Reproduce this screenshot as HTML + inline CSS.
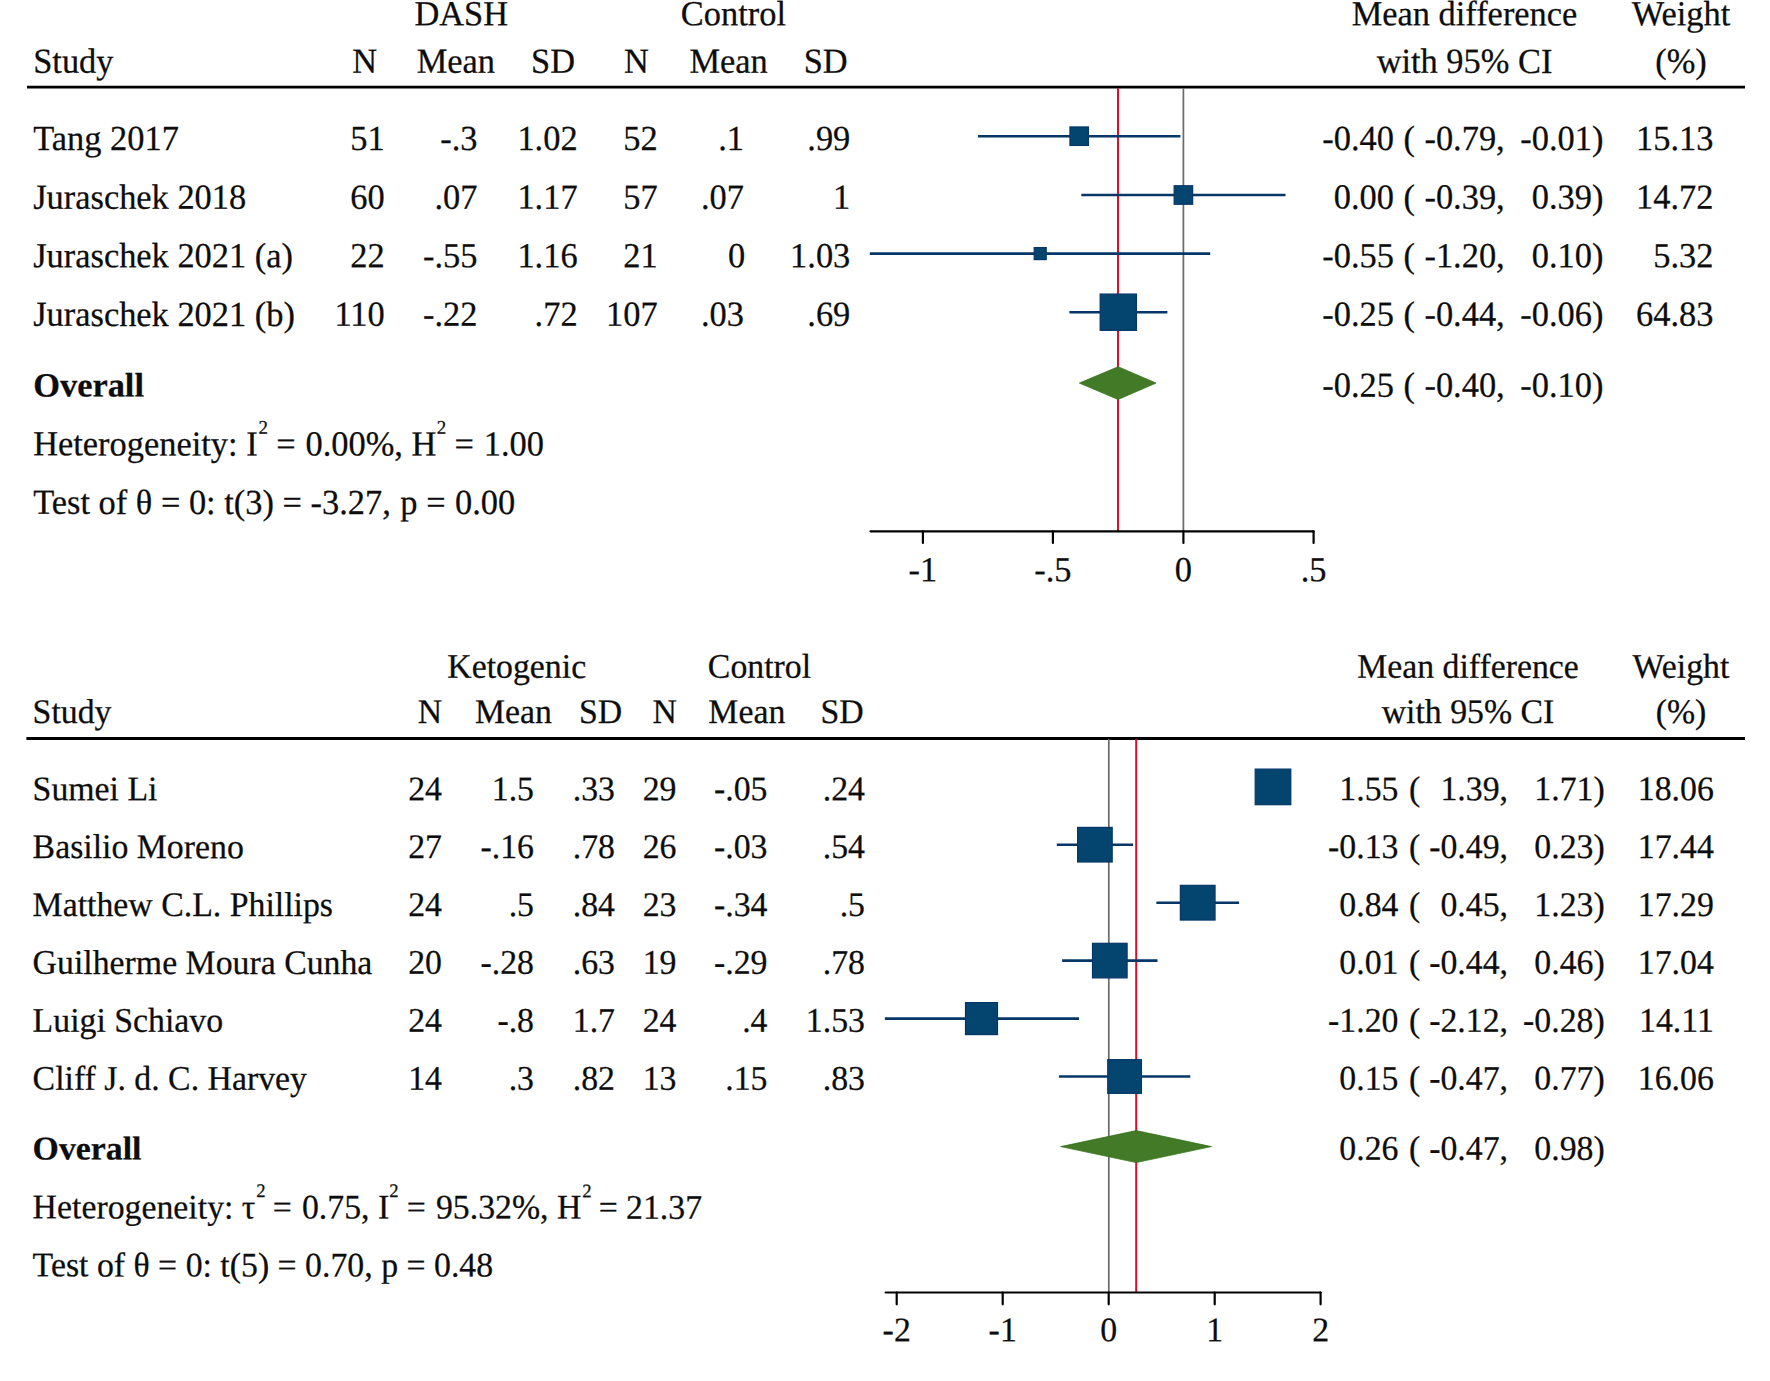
<!DOCTYPE html>
<html lang="en"><head><meta charset="utf-8"><title>Forest plots</title>
<style>
html,body{margin:0;padding:0;background:#fff}
svg{display:block}
text{font-family:'Liberation Serif', 'DejaVu Serif', serif;fill:#0d0d0d;stroke:#0d0d0d;stroke-width:0.25px;white-space:pre;text-rendering:geometricPrecision}
</style></head><body>
<svg width="1770" height="1381" viewBox="0 0 1770 1381">
<rect width="1770" height="1381" fill="#fff"/>
<g font-size="34.4">
<text transform="translate(461.2 25.35) matrix(1 0.0005 0 1.022 0 0)" text-anchor="middle">DASH</text>
<text transform="translate(733.4 25.35) matrix(1 0.0005 0 1.022 0 0)" text-anchor="middle">Control</text>
<text transform="translate(1464.5 25.35) matrix(1 0.0005 0 1.022 0 0)" text-anchor="middle">Mean difference</text>
<text transform="translate(1681 25.35) matrix(1 0.0005 0 1.022 0 0)" text-anchor="middle">Weight</text>
<text transform="translate(33.2 72.85) matrix(1 0.0005 0 1.022 0 0)">Study</text>
<text transform="translate(364.7 72.85) matrix(1 0.0005 0 1.022 0 0)" text-anchor="middle">N</text>
<text transform="translate(455.8 72.85) matrix(1 0.0005 0 1.022 0 0)" text-anchor="middle">Mean</text>
<text transform="translate(553 72.85) matrix(1 0.0005 0 1.022 0 0)" text-anchor="middle">SD</text>
<text transform="translate(636.5 72.85) matrix(1 0.0005 0 1.022 0 0)" text-anchor="middle">N</text>
<text transform="translate(728.6 72.85) matrix(1 0.0005 0 1.022 0 0)" text-anchor="middle">Mean</text>
<text transform="translate(825.7 72.85) matrix(1 0.0005 0 1.022 0 0)" text-anchor="middle">SD</text>
<text transform="translate(1464.5 72.85) matrix(1 0.0005 0 1.022 0 0)" text-anchor="middle">with 95% CI</text>
<text transform="translate(1681 72.85) matrix(1 0.0005 0 1.022 0 0)" text-anchor="middle">(%)</text>
<text transform="translate(33.2 150.05) matrix(1 0.0005 0 1.022 0 0)">Tang 2017</text>
<text transform="translate(384.7 150.05) matrix(1 0.0005 0 1.022 0 0)" text-anchor="end">51</text>
<text transform="translate(477.5 150.05) matrix(1 0.0005 0 1.022 0 0)" text-anchor="end">-.3</text>
<text transform="translate(577.6 150.05) matrix(1 0.0005 0 1.022 0 0)" text-anchor="end">1.02</text>
<text transform="translate(657.7 150.05) matrix(1 0.0005 0 1.022 0 0)" text-anchor="end">52</text>
<text transform="translate(744 150.05) matrix(1 0.0005 0 1.022 0 0)" text-anchor="end">.1</text>
<text transform="translate(850.3 150.05) matrix(1 0.0005 0 1.022 0 0)" text-anchor="end">.99</text>
<text transform="translate(1394 150.05) matrix(1 0.0005 0 1.022 0 0)" text-anchor="end">-0.40</text>
<text transform="translate(1403.5 150.05) matrix(1 0.0005 0 1.022 0 0)">(</text>
<text transform="translate(1504.7 150.05) matrix(1 0.0005 0 1.022 0 0)" text-anchor="end">-0.79,</text>
<text transform="translate(1603.4 150.05) matrix(1 0.0005 0 1.022 0 0)" text-anchor="end">-0.01)</text>
<text transform="translate(1713.5 150.05) matrix(1 0.0005 0 1.022 0 0)" text-anchor="end">15.13</text>
<text transform="translate(33.2 208.65) matrix(1 0.0005 0 1.022 0 0)">Juraschek 2018</text>
<text transform="translate(384.7 208.65) matrix(1 0.0005 0 1.022 0 0)" text-anchor="end">60</text>
<text transform="translate(477.5 208.65) matrix(1 0.0005 0 1.022 0 0)" text-anchor="end">.07</text>
<text transform="translate(577.6 208.65) matrix(1 0.0005 0 1.022 0 0)" text-anchor="end">1.17</text>
<text transform="translate(657.7 208.65) matrix(1 0.0005 0 1.022 0 0)" text-anchor="end">57</text>
<text transform="translate(744 208.65) matrix(1 0.0005 0 1.022 0 0)" text-anchor="end">.07</text>
<text transform="translate(850.3 208.65) matrix(1 0.0005 0 1.022 0 0)" text-anchor="end">1</text>
<text transform="translate(1394 208.65) matrix(1 0.0005 0 1.022 0 0)" text-anchor="end">0.00</text>
<text transform="translate(1403.5 208.65) matrix(1 0.0005 0 1.022 0 0)">(</text>
<text transform="translate(1504.7 208.65) matrix(1 0.0005 0 1.022 0 0)" text-anchor="end">-0.39,</text>
<text transform="translate(1603.4 208.65) matrix(1 0.0005 0 1.022 0 0)" text-anchor="end">0.39)</text>
<text transform="translate(1713.5 208.65) matrix(1 0.0005 0 1.022 0 0)" text-anchor="end">14.72</text>
<text transform="translate(33.2 267.25) matrix(1 0.0005 0 1.022 0 0)">Juraschek 2021 (a)</text>
<text transform="translate(384.7 267.25) matrix(1 0.0005 0 1.022 0 0)" text-anchor="end">22</text>
<text transform="translate(477.5 267.25) matrix(1 0.0005 0 1.022 0 0)" text-anchor="end">-.55</text>
<text transform="translate(577.6 267.25) matrix(1 0.0005 0 1.022 0 0)" text-anchor="end">1.16</text>
<text transform="translate(657.7 267.25) matrix(1 0.0005 0 1.022 0 0)" text-anchor="end">21</text>
<text transform="translate(745.2 267.25) matrix(1 0.0005 0 1.022 0 0)" text-anchor="end">0</text>
<text transform="translate(850.3 267.25) matrix(1 0.0005 0 1.022 0 0)" text-anchor="end">1.03</text>
<text transform="translate(1394 267.25) matrix(1 0.0005 0 1.022 0 0)" text-anchor="end">-0.55</text>
<text transform="translate(1403.5 267.25) matrix(1 0.0005 0 1.022 0 0)">(</text>
<text transform="translate(1504.7 267.25) matrix(1 0.0005 0 1.022 0 0)" text-anchor="end">-1.20,</text>
<text transform="translate(1603.4 267.25) matrix(1 0.0005 0 1.022 0 0)" text-anchor="end">0.10)</text>
<text transform="translate(1713.5 267.25) matrix(1 0.0005 0 1.022 0 0)" text-anchor="end">5.32</text>
<text transform="translate(33.2 325.85) matrix(1 0.0005 0 1.022 0 0)">Juraschek 2021 (b)</text>
<text transform="translate(384.7 325.85) matrix(1 0.0005 0 1.022 0 0)" text-anchor="end">110</text>
<text transform="translate(477.5 325.85) matrix(1 0.0005 0 1.022 0 0)" text-anchor="end">-.22</text>
<text transform="translate(577.6 325.85) matrix(1 0.0005 0 1.022 0 0)" text-anchor="end">.72</text>
<text transform="translate(657.7 325.85) matrix(1 0.0005 0 1.022 0 0)" text-anchor="end">107</text>
<text transform="translate(744 325.85) matrix(1 0.0005 0 1.022 0 0)" text-anchor="end">.03</text>
<text transform="translate(850.3 325.85) matrix(1 0.0005 0 1.022 0 0)" text-anchor="end">.69</text>
<text transform="translate(1394 325.85) matrix(1 0.0005 0 1.022 0 0)" text-anchor="end">-0.25</text>
<text transform="translate(1403.5 325.85) matrix(1 0.0005 0 1.022 0 0)">(</text>
<text transform="translate(1504.7 325.85) matrix(1 0.0005 0 1.022 0 0)" text-anchor="end">-0.44,</text>
<text transform="translate(1603.4 325.85) matrix(1 0.0005 0 1.022 0 0)" text-anchor="end">-0.06)</text>
<text transform="translate(1713.5 325.85) matrix(1 0.0005 0 1.022 0 0)" text-anchor="end">64.83</text>
<text transform="translate(33.2 396.55) matrix(1 0.0005 0 0.985 0 0)" font-weight="bold" stroke="none">Overall</text>
<text transform="translate(1394 396.85) matrix(1 0.0005 0 1.022 0 0)" text-anchor="end">-0.25</text>
<text transform="translate(1403.5 396.85) matrix(1 0.0005 0 1.022 0 0)">(</text>
<text transform="translate(1504.7 396.85) matrix(1 0.0005 0 1.022 0 0)" text-anchor="end">-0.40,</text>
<text transform="translate(1603.4 396.85) matrix(1 0.0005 0 1.022 0 0)" text-anchor="end">-0.10)</text>
<text transform="translate(33.2 455.35) matrix(1 0.0005 0 1.022 0 0)">Heterogeneity: I<tspan dx="0.8" dy="-21.3" font-size="19">2</tspan><tspan dy="21.3" dx="-0.25"> </tspan>=<tspan dx="1.2"> </tspan>0.00%, H<tspan dx="0.3" dy="-21.3" font-size="19">2</tspan><tspan dy="21.3" dx="-0.25"> </tspan>=<tspan dx="1.3"> </tspan>1.00</text>
<text transform="translate(33.2 513.85) matrix(1 0.0005 0 1.022 0 0)">Test of θ = 0: t(3) = -3.27,<tspan dx="1.0"> </tspan>p =<tspan dx="0.9"> </tspan>0.00</text>
<text transform="translate(922.9 581.35) matrix(1 0.0005 0 1.022 0 0)" text-anchor="middle">-1</text>
<text transform="translate(1052.9 581.35) matrix(1 0.0005 0 1.022 0 0)" text-anchor="middle">-.5</text>
<text transform="translate(1183.4 581.35) matrix(1 0.0005 0 1.022 0 0)" text-anchor="middle">0</text>
<text transform="translate(1313.6 581.35) matrix(1 0.0005 0 1.022 0 0)" text-anchor="middle">.5</text>
</g>
<line x1="27" y1="87.1" x2="1745" y2="87.1" stroke="#000" stroke-width="2.7"/>
<line x1="1118.0" y1="88" x2="1118.0" y2="531" stroke="#d50f2e" stroke-width="2.0"/>
<line x1="1183.4" y1="88" x2="1183.4" y2="531" stroke="#6a6a6a" stroke-width="1.7"/>
<line x1="870.5" y1="531.3" x2="1313.5" y2="531.3" stroke="#000" stroke-width="2.2" stroke-linecap="round"/>
<line x1="922.9" y1="531.3" x2="922.9" y2="543.0" stroke="#000" stroke-width="2.2" stroke-linecap="round"/>
<line x1="1052.9" y1="531.3" x2="1052.9" y2="543.0" stroke="#000" stroke-width="2.2" stroke-linecap="round"/>
<line x1="1183.4" y1="531.3" x2="1183.4" y2="543.0" stroke="#000" stroke-width="2.2" stroke-linecap="round"/>
<line x1="1313.6" y1="531.3" x2="1313.6" y2="543.0" stroke="#000" stroke-width="2.2" stroke-linecap="round"/>
<line x1="978.0" y1="136.2" x2="1180.4" y2="136.2" stroke="#043767" stroke-width="2.6"/>
<rect x="1069.95" y="126.95" width="18.50" height="18.50" fill="#04456f" stroke="#043767" stroke-width="1.2"/>
<line x1="1081.3" y1="195" x2="1285.5" y2="195" stroke="#043767" stroke-width="2.6"/>
<rect x="1174.15" y="185.75" width="18.50" height="18.50" fill="#04456f" stroke="#043767" stroke-width="1.2"/>
<line x1="869.8" y1="253.6" x2="1210.2" y2="253.6" stroke="#043767" stroke-width="2.6"/>
<rect x="1034.20" y="247.60" width="12.00" height="12.00" fill="#04456f" stroke="#043767" stroke-width="1.2"/>
<line x1="1069.4" y1="312.2" x2="1167.4" y2="312.2" stroke="#043767" stroke-width="2.6"/>
<rect x="1100.15" y="294.05" width="36.30" height="36.30" fill="#04456f" stroke="#043767" stroke-width="1.2"/>
<polygon points="1079.3,383.1 1118.1,366.70000000000005 1156.1,383.1 1118.1,399.5" fill="#437a27" stroke="#2f6d14" stroke-width="0.7"/>
<g font-size="33.8">
<text transform="translate(516.7 677.85) matrix(1 0.0005 0 1.022 0 0)" text-anchor="middle">Ketogenic</text>
<text transform="translate(759.5 677.85) matrix(1 0.0005 0 1.022 0 0)" text-anchor="middle">Control</text>
<text transform="translate(1468 677.85) matrix(1 0.0005 0 1.022 0 0)" text-anchor="middle">Mean difference</text>
<text transform="translate(1681 677.85) matrix(1 0.0005 0 1.022 0 0)" text-anchor="middle">Weight</text>
<text transform="translate(32.6 723.05) matrix(1 0.0005 0 1.022 0 0)">Study</text>
<text transform="translate(430 723.05) matrix(1 0.0005 0 1.022 0 0)" text-anchor="middle">N</text>
<text transform="translate(513.5 723.05) matrix(1 0.0005 0 1.022 0 0)" text-anchor="middle">Mean</text>
<text transform="translate(600.5 723.05) matrix(1 0.0005 0 1.022 0 0)" text-anchor="middle">SD</text>
<text transform="translate(664.7 723.05) matrix(1 0.0005 0 1.022 0 0)" text-anchor="middle">N</text>
<text transform="translate(746.8 723.05) matrix(1 0.0005 0 1.022 0 0)" text-anchor="middle">Mean</text>
<text transform="translate(842 723.05) matrix(1 0.0005 0 1.022 0 0)" text-anchor="middle">SD</text>
<text transform="translate(1468 723.05) matrix(1 0.0005 0 1.022 0 0)" text-anchor="middle">with 95% CI</text>
<text transform="translate(1681 723.05) matrix(1 0.0005 0 1.022 0 0)" text-anchor="middle">(%)</text>
<text transform="translate(32.6 800.15) matrix(1 0.0005 0 1.022 0 0)">Sumei Li</text>
<text transform="translate(442 800.15) matrix(1 0.0005 0 1.022 0 0)" text-anchor="end">24</text>
<text transform="translate(534 800.15) matrix(1 0.0005 0 1.022 0 0)" text-anchor="end">1.5</text>
<text transform="translate(615 800.15) matrix(1 0.0005 0 1.022 0 0)" text-anchor="end">.33</text>
<text transform="translate(676.5 800.15) matrix(1 0.0005 0 1.022 0 0)" text-anchor="end">29</text>
<text transform="translate(767.5 800.15) matrix(1 0.0005 0 1.022 0 0)" text-anchor="end">-.05</text>
<text transform="translate(865 800.15) matrix(1 0.0005 0 1.022 0 0)" text-anchor="end">.24</text>
<text transform="translate(1398.5 800.15) matrix(1 0.0005 0 1.022 0 0)" text-anchor="end">1.55</text>
<text transform="translate(1409 800.15) matrix(1 0.0005 0 1.022 0 0)">(</text>
<text transform="translate(1508 800.15) matrix(1 0.0005 0 1.022 0 0)" text-anchor="end">1.39,</text>
<text transform="translate(1604.7 800.15) matrix(1 0.0005 0 1.022 0 0)" text-anchor="end">1.71)</text>
<text transform="translate(1713.8 800.15) matrix(1 0.0005 0 1.022 0 0)" text-anchor="end">18.06</text>
<text transform="translate(32.6 858.05) matrix(1 0.0005 0 1.022 0 0)">Basilio Moreno</text>
<text transform="translate(442 858.05) matrix(1 0.0005 0 1.022 0 0)" text-anchor="end">27</text>
<text transform="translate(534 858.05) matrix(1 0.0005 0 1.022 0 0)" text-anchor="end">-.16</text>
<text transform="translate(615 858.05) matrix(1 0.0005 0 1.022 0 0)" text-anchor="end">.78</text>
<text transform="translate(676.5 858.05) matrix(1 0.0005 0 1.022 0 0)" text-anchor="end">26</text>
<text transform="translate(767.5 858.05) matrix(1 0.0005 0 1.022 0 0)" text-anchor="end">-.03</text>
<text transform="translate(865 858.05) matrix(1 0.0005 0 1.022 0 0)" text-anchor="end">.54</text>
<text transform="translate(1398.5 858.05) matrix(1 0.0005 0 1.022 0 0)" text-anchor="end">-0.13</text>
<text transform="translate(1409 858.05) matrix(1 0.0005 0 1.022 0 0)">(</text>
<text transform="translate(1508 858.05) matrix(1 0.0005 0 1.022 0 0)" text-anchor="end">-0.49,</text>
<text transform="translate(1604.7 858.05) matrix(1 0.0005 0 1.022 0 0)" text-anchor="end">0.23)</text>
<text transform="translate(1713.8 858.05) matrix(1 0.0005 0 1.022 0 0)" text-anchor="end">17.44</text>
<text transform="translate(32.6 915.95) matrix(1 0.0005 0 1.022 0 0)">Matthew C.L. Phillips</text>
<text transform="translate(442 915.95) matrix(1 0.0005 0 1.022 0 0)" text-anchor="end">24</text>
<text transform="translate(534 915.95) matrix(1 0.0005 0 1.022 0 0)" text-anchor="end">.5</text>
<text transform="translate(615 915.95) matrix(1 0.0005 0 1.022 0 0)" text-anchor="end">.84</text>
<text transform="translate(676.5 915.95) matrix(1 0.0005 0 1.022 0 0)" text-anchor="end">23</text>
<text transform="translate(767.5 915.95) matrix(1 0.0005 0 1.022 0 0)" text-anchor="end">-.34</text>
<text transform="translate(865 915.95) matrix(1 0.0005 0 1.022 0 0)" text-anchor="end">.5</text>
<text transform="translate(1398.5 915.95) matrix(1 0.0005 0 1.022 0 0)" text-anchor="end">0.84</text>
<text transform="translate(1409 915.95) matrix(1 0.0005 0 1.022 0 0)">(</text>
<text transform="translate(1508 915.95) matrix(1 0.0005 0 1.022 0 0)" text-anchor="end">0.45,</text>
<text transform="translate(1604.7 915.95) matrix(1 0.0005 0 1.022 0 0)" text-anchor="end">1.23)</text>
<text transform="translate(1713.8 915.95) matrix(1 0.0005 0 1.022 0 0)" text-anchor="end">17.29</text>
<text transform="translate(32.6 973.85) matrix(1 0.0005 0 1.022 0 0)">Guilherme Moura Cunha</text>
<text transform="translate(442 973.85) matrix(1 0.0005 0 1.022 0 0)" text-anchor="end">20</text>
<text transform="translate(534 973.85) matrix(1 0.0005 0 1.022 0 0)" text-anchor="end">-.28</text>
<text transform="translate(615 973.85) matrix(1 0.0005 0 1.022 0 0)" text-anchor="end">.63</text>
<text transform="translate(676.5 973.85) matrix(1 0.0005 0 1.022 0 0)" text-anchor="end">19</text>
<text transform="translate(767.5 973.85) matrix(1 0.0005 0 1.022 0 0)" text-anchor="end">-.29</text>
<text transform="translate(865 973.85) matrix(1 0.0005 0 1.022 0 0)" text-anchor="end">.78</text>
<text transform="translate(1398.5 973.85) matrix(1 0.0005 0 1.022 0 0)" text-anchor="end">0.01</text>
<text transform="translate(1409 973.85) matrix(1 0.0005 0 1.022 0 0)">(</text>
<text transform="translate(1508 973.85) matrix(1 0.0005 0 1.022 0 0)" text-anchor="end">-0.44,</text>
<text transform="translate(1604.7 973.85) matrix(1 0.0005 0 1.022 0 0)" text-anchor="end">0.46)</text>
<text transform="translate(1713.8 973.85) matrix(1 0.0005 0 1.022 0 0)" text-anchor="end">17.04</text>
<text transform="translate(32.6 1031.75) matrix(1 0.0005 0 1.022 0 0)">Luigi Schiavo</text>
<text transform="translate(442 1031.75) matrix(1 0.0005 0 1.022 0 0)" text-anchor="end">24</text>
<text transform="translate(534 1031.75) matrix(1 0.0005 0 1.022 0 0)" text-anchor="end">-.8</text>
<text transform="translate(615 1031.75) matrix(1 0.0005 0 1.022 0 0)" text-anchor="end">1.7</text>
<text transform="translate(676.5 1031.75) matrix(1 0.0005 0 1.022 0 0)" text-anchor="end">24</text>
<text transform="translate(767.5 1031.75) matrix(1 0.0005 0 1.022 0 0)" text-anchor="end">.4</text>
<text transform="translate(865 1031.75) matrix(1 0.0005 0 1.022 0 0)" text-anchor="end">1.53</text>
<text transform="translate(1398.5 1031.75) matrix(1 0.0005 0 1.022 0 0)" text-anchor="end">-1.20</text>
<text transform="translate(1409 1031.75) matrix(1 0.0005 0 1.022 0 0)">(</text>
<text transform="translate(1508 1031.75) matrix(1 0.0005 0 1.022 0 0)" text-anchor="end">-2.12,</text>
<text transform="translate(1604.7 1031.75) matrix(1 0.0005 0 1.022 0 0)" text-anchor="end">-0.28)</text>
<text transform="translate(1713.8 1031.75) matrix(1 0.0005 0 1.022 0 0)" text-anchor="end">14.11</text>
<text transform="translate(32.6 1089.65) matrix(1 0.0005 0 1.022 0 0)">Cliff J. d. C. Harvey</text>
<text transform="translate(442 1089.65) matrix(1 0.0005 0 1.022 0 0)" text-anchor="end">14</text>
<text transform="translate(534 1089.65) matrix(1 0.0005 0 1.022 0 0)" text-anchor="end">.3</text>
<text transform="translate(615 1089.65) matrix(1 0.0005 0 1.022 0 0)" text-anchor="end">.82</text>
<text transform="translate(676.5 1089.65) matrix(1 0.0005 0 1.022 0 0)" text-anchor="end">13</text>
<text transform="translate(767.5 1089.65) matrix(1 0.0005 0 1.022 0 0)" text-anchor="end">.15</text>
<text transform="translate(865 1089.65) matrix(1 0.0005 0 1.022 0 0)" text-anchor="end">.83</text>
<text transform="translate(1398.5 1089.65) matrix(1 0.0005 0 1.022 0 0)" text-anchor="end">0.15</text>
<text transform="translate(1409 1089.65) matrix(1 0.0005 0 1.022 0 0)">(</text>
<text transform="translate(1508 1089.65) matrix(1 0.0005 0 1.022 0 0)" text-anchor="end">-0.47,</text>
<text transform="translate(1604.7 1089.65) matrix(1 0.0005 0 1.022 0 0)" text-anchor="end">0.77)</text>
<text transform="translate(1713.8 1089.65) matrix(1 0.0005 0 1.022 0 0)" text-anchor="end">16.06</text>
<text transform="translate(32.6 1159.55) matrix(1 0.0005 0 0.985 0 0)" font-weight="bold" stroke="none">Overall</text>
<text transform="translate(1398.5 1159.85) matrix(1 0.0005 0 1.022 0 0)" text-anchor="end">0.26</text>
<text transform="translate(1409 1159.85) matrix(1 0.0005 0 1.022 0 0)">(</text>
<text transform="translate(1508 1159.85) matrix(1 0.0005 0 1.022 0 0)" text-anchor="end">-0.47,</text>
<text transform="translate(1604.7 1159.85) matrix(1 0.0005 0 1.022 0 0)" text-anchor="end">0.98)</text>
<text transform="translate(32.6 1218.35) matrix(1 0.0005 0 1.022 0 0)">Heterogeneity: τ<tspan dx="0.8" dy="-21" font-size="18.7">2</tspan><tspan dy="21" dx="-1.25"> </tspan>=<tspan dx="1.6"> </tspan>0.75, I<tspan dx="0" dy="-21" font-size="18.7">2</tspan><tspan dy="21" dx="-0.35"> </tspan>=<tspan dx="1.7"> </tspan>95.32%, H<tspan dx="0.8" dy="-21" font-size="18.7">2</tspan><tspan dy="21" dx="-1.25"> </tspan>=<tspan dx="-0.2"> </tspan>21.37</text>
<text transform="translate(32.6 1276.35) matrix(1 0.0005 0 1.022 0 0)">Test of θ = 0: t(5) = 0.70, p = 0.48</text>
<text transform="translate(896.7 1341.35) matrix(1 0.0005 0 1.022 0 0)" text-anchor="middle">-2</text>
<text transform="translate(1002.7 1341.35) matrix(1 0.0005 0 1.022 0 0)" text-anchor="middle">-1</text>
<text transform="translate(1108.7 1341.35) matrix(1 0.0005 0 1.022 0 0)" text-anchor="middle">0</text>
<text transform="translate(1214.7 1341.35) matrix(1 0.0005 0 1.022 0 0)" text-anchor="middle">1</text>
<text transform="translate(1320.6 1341.35) matrix(1 0.0005 0 1.022 0 0)" text-anchor="middle">2</text>
</g>
<line x1="26.4" y1="738.5" x2="1745" y2="738.5" stroke="#000" stroke-width="2.9"/>
<line x1="1108.8" y1="739" x2="1108.8" y2="1292" stroke="#6a6a6a" stroke-width="1.7"/>
<line x1="1136.2" y1="739" x2="1136.2" y2="1292" stroke="#d50f2e" stroke-width="2.0"/>
<line x1="885.6" y1="1292.5" x2="1320.6" y2="1292.5" stroke="#000" stroke-width="2.2" stroke-linecap="round"/>
<line x1="896.7" y1="1292.5" x2="896.7" y2="1304.3" stroke="#000" stroke-width="2.2" stroke-linecap="round"/>
<line x1="1002.7" y1="1292.5" x2="1002.7" y2="1304.3" stroke="#000" stroke-width="2.2" stroke-linecap="round"/>
<line x1="1108.7" y1="1292.5" x2="1108.7" y2="1304.3" stroke="#000" stroke-width="2.2" stroke-linecap="round"/>
<line x1="1214.7" y1="1292.5" x2="1214.7" y2="1304.3" stroke="#000" stroke-width="2.2" stroke-linecap="round"/>
<line x1="1320.6" y1="1292.5" x2="1320.6" y2="1304.3" stroke="#000" stroke-width="2.2" stroke-linecap="round"/>
<line x1="1256.0" y1="786.9" x2="1290.0" y2="786.9" stroke="#043767" stroke-width="2.6"/>
<rect x="1255.20" y="769.10" width="35.60" height="35.60" fill="#04456f" stroke="#043767" stroke-width="1.2"/>
<line x1="1056.8" y1="844.7" x2="1133.1" y2="844.7" stroke="#043767" stroke-width="2.6"/>
<rect x="1077.60" y="827.40" width="34.60" height="34.60" fill="#04456f" stroke="#043767" stroke-width="1.2"/>
<line x1="1156.4" y1="902.7" x2="1239.1" y2="902.7" stroke="#043767" stroke-width="2.6"/>
<rect x="1180.35" y="885.35" width="34.70" height="34.70" fill="#04456f" stroke="#043767" stroke-width="1.2"/>
<line x1="1062.1" y1="960.6" x2="1157.5" y2="960.6" stroke="#043767" stroke-width="2.6"/>
<rect x="1092.50" y="943.30" width="34.60" height="34.60" fill="#04456f" stroke="#043767" stroke-width="1.2"/>
<line x1="884.9" y1="1018.6" x2="1079.0" y2="1018.6" stroke="#043767" stroke-width="2.6"/>
<rect x="965.50" y="1002.60" width="32.00" height="32.00" fill="#04456f" stroke="#043767" stroke-width="1.2"/>
<line x1="1058.9" y1="1076.5" x2="1190.3" y2="1076.5" stroke="#043767" stroke-width="2.6"/>
<rect x="1107.75" y="1059.65" width="33.70" height="33.70" fill="#04456f" stroke="#043767" stroke-width="1.2"/>
<polygon points="1060.6,1146.6 1136.2,1130.6 1211.5,1146.6 1136.2,1162.6" fill="#437a27" stroke="#2f6d14" stroke-width="0.7"/>
</svg>
</body></html>
